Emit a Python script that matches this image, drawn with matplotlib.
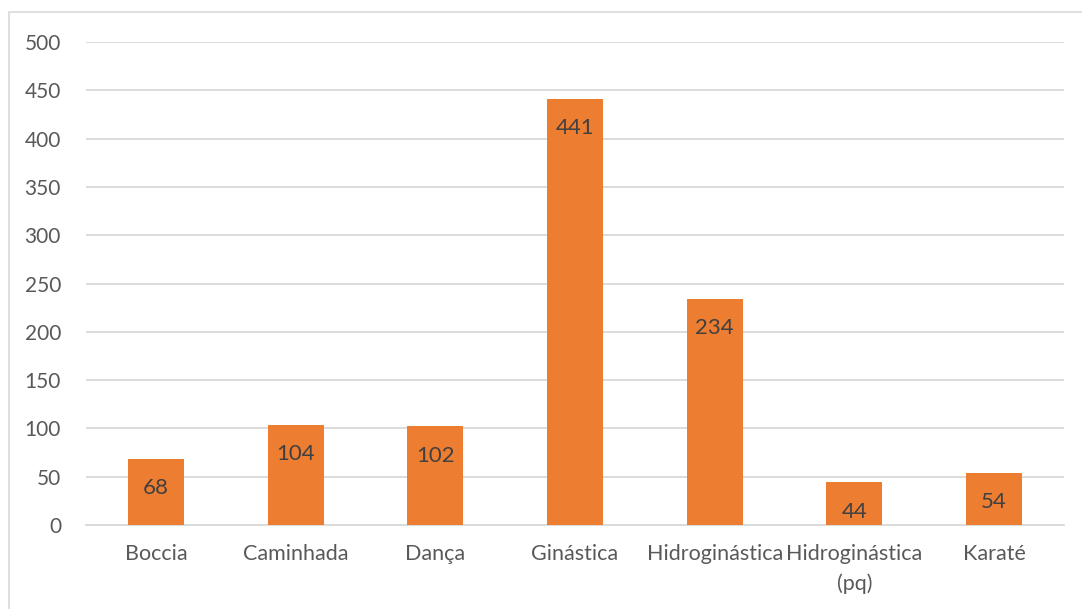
import matplotlib
matplotlib.use("Agg")
import matplotlib.pyplot as plt
from matplotlib.patches import Rectangle

categories = ["Boccia", "Caminhada", "Dança", "Ginástica", "Hidroginástica",
              "Hidroginástica\n(pq)", "Karaté"]
values = [68, 104, 102, 441, 234, 44, 54]
yticks = [0, 50, 100, 150, 200, 250, 300, 350, 400, 450, 500]

plt.rcParams["font.family"] = ["Lato", "DejaVu Sans"]

fig = plt.figure(figsize=(10.82, 6.09), dpi=100)
ax = fig.add_axes([86 / 1082, 1 - 525 / 609, (1064 - 86) / 1082, (525 - 42) / 609])

# chart border
fig.patches.append(Rectangle((9 / 1082, -0.01), 1.02, 1 - 12 / 609 + 0.01,
                             transform=fig.transFigure, fill=False,
                             edgecolor="#D9D9D9", linewidth=1.2))

x = range(len(categories))
bars = ax.bar(x, values, width=0.4, color="#ED7D31", zorder=3)

for xi, v in zip(x, values):
    ax.annotate(str(v), xy=(xi, v), xytext=(0, -21), textcoords="offset points",
                ha="center", va="center", fontsize=16, color="#404040", zorder=4)

ax.set_xlim(-0.5, len(categories) - 0.5)
ax.set_ylim(0, 500)
ax.set_yticks(yticks)
ax.set_xticks(list(x))
ax.set_xticklabels(categories, fontsize=15.5, color="#595959", linespacing=1.55)
ax.tick_params(axis="y", length=0, pad=18, labelsize=15, labelcolor="#595959")
ax.tick_params(axis="x", length=0, pad=14)
ax.grid(axis="y", color="#D9D9D9", linewidth=1.3, zorder=0)
for s in ["top", "right", "left"]:
    ax.spines[s].set_visible(False)
ax.spines["bottom"].set_color("#D9D9D9")
ax.spines["bottom"].set_linewidth(1.3)

fig.savefig("out.png", dpi=100)
